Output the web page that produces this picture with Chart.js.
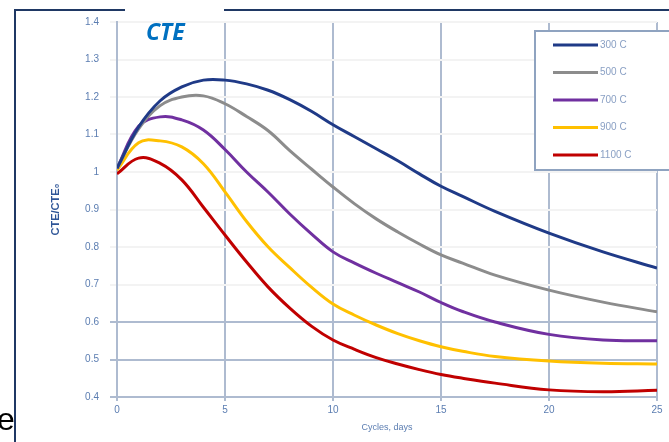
<!DOCTYPE html>
<html>
<head>
<meta charset="utf-8">
<script src="https://cdn.jsdelivr.net/npm/chart.js@4"></script>
<style>
  body { margin: 0; background: #fff; }
  #wrap { position: relative; width: 669px; height: 442px; overflow: hidden; }
  #titulo { position: absolute; left: 146px; top: 15px; font: italic bold 23px "Open Sans", "Liberation Sans", sans-serif; color: #0070c0; }
  #letra { position: absolute; left: -3px; top: 401px; font: 32px "Liberation Sans", sans-serif; color: #000; }
</style>
</head>
<body>
<div id="wrap">
  <canvas id="graficoCte" width="669" height="442"></canvas>
  <div id="titulo">CTE</div>
  <div id="letra">e</div>
</div>
<script>
// dados
const tempos = [0, 1, 2, 3, 4, 5, 6, 7, 8, 9, 10, 11, 12, 13, 14, 15, 16, 17.5, 20, 22.5, 25];
const rotulos = ['300 C', '500 C', '700 C', '900 C', '1100 C'];
const serie300 = [1.01, 1.12, 1.19, 1.227, 1.245, 1.245, 1.235, 1.218, 1.193, 1.162, 1.126, 1.094, 1.062, 1.03, 0.995, 0.962, 0.935, 0.895, 0.837, 0.787, 0.744];
const serie500 = [1.01, 1.115, 1.177, 1.2, 1.203, 1.182, 1.148, 1.11, 1.057, 1.008, 0.96, 0.915, 0.875, 0.84, 0.808, 0.779, 0.757, 0.725, 0.685, 0.653, 0.627];
const serie700 = [1.01, 1.122, 1.147, 1.139, 1.112, 1.06, 1.0, 0.946, 0.888, 0.835, 0.787, 0.757, 0.73, 0.705, 0.68, 0.652, 0.628, 0.6, 0.567, 0.552, 0.55];
const serie900 = [1.005, 1.078, 1.083, 1.067, 1.022, 0.947, 0.868, 0.80, 0.745, 0.693, 0.648, 0.618, 0.592, 0.569, 0.55, 0.534, 0.522, 0.508, 0.496, 0.49, 0.488];
const serie1100 = [0.995, 1.037, 1.023, 0.979, 0.906, 0.832, 0.76, 0.693, 0.637, 0.589, 0.552, 0.527, 0.505, 0.488, 0.473, 0.46, 0.45, 0.437, 0.419, 0.414, 0.418];
const cores = ['#1f3a87', '#8c8c8c', '#7030a0', '#ffc000', '#c00000'];

function pontos(valores) {
    return tempos.map(function(t, i) { return { x: t, y: valores[i] }; });
}

const series = [serie300, serie500, serie700, serie900, serie1100];
const datasets = series.map(function(s, i) {
    return {
        label: rotulos[i],
        data: pontos(s),
        borderColor: cores[i],
        backgroundColor: cores[i],
        borderWidth: 3,
        pointRadius: 0,
        tension: 0.4
    };
});

// moldura do slide e legenda desenhada dentro do grafico
const moldura = {
    id: 'moldura',
    afterDraw(chart) {
        const ctx = chart.ctx;
        ctx.save();
        ctx.strokeStyle = '#1f3864';
        ctx.lineWidth = 2;
        ctx.beginPath();
        ctx.moveTo(15, 442);
        ctx.lineTo(15, 10);
        ctx.lineTo(125, 10);
        ctx.moveTo(224, 10);
        ctx.lineTo(669, 10);
        ctx.stroke();

        // caixa da legenda
        ctx.fillStyle = '#fff';
        ctx.fillRect(535, 31, 140, 139);
        ctx.strokeStyle = '#8fa3c0';
        ctx.lineWidth = 2;
        ctx.strokeRect(535, 31, 140, 139);
        ctx.font = '10px "Liberation Sans", sans-serif';
        ctx.textBaseline = 'middle';
        chart.data.datasets.forEach(function(ds, i) {
            const y = 45 + i * 27.5;
            ctx.strokeStyle = ds.borderColor;
            ctx.lineWidth = 3;
            ctx.beginPath();
            ctx.moveTo(553, y);
            ctx.lineTo(598, y);
            ctx.stroke();
            ctx.fillStyle = '#8aa0c4';
            ctx.fillText(ds.label, 600, y);
        });
        ctx.restore();
    }
};

const corGrade = '#aebbd0';

new Chart(document.getElementById('graficoCte').getContext('2d'), {
    type: 'line',
    data: { datasets: datasets },
    plugins: [moldura],
    options: {
        responsive: false,
        animation: false,
        layout: { padding: { left: 49, top: 22, right: 12, bottom: 0 } },
        plugins: {
            legend: { display: false },
            tooltip: { enabled: false }
        },
        scales: {
            x: {
                type: 'linear',
                min: 0,
                max: 25,
                afterFit(axis) { axis.height = 45; },
                ticks: {
                    stepSize: 5,
                    color: '#5b7db1',
                    font: { family: 'Liberation Sans', size: 10 },
                    padding: 3
                },
                grid: { color: corGrade, lineWidth: 2, tickLength: 4 },
                border: { color: corGrade, width: 2 },
                title: {
                    display: true,
                    text: 'Cycles, days',
                    color: '#5b7db1',
                    font: { family: 'Liberation Sans', size: 9 },
                    padding: { top: 2, bottom: 9 }
                }
            },
            y: {
                min: 0.4,
                max: 1.4,
                afterFit(axis) { axis.width = 68; },
                ticks: {
                    stepSize: 0.1,
                    color: '#5b7db1',
                    font: { family: 'Liberation Sans', size: 10 },
                    padding: 11,
                    callback: function(v) { return String(Number(v.toFixed(1))); }
                },
                grid: {
                    color: function(c) { return c.tick && c.tick.value < 0.65 ? corGrade : '#f3f3f3'; },
                    lineWidth: 2,
                    tickLength: 7
                },
                border: { color: corGrade, width: 2 },
                title: {
                    display: true,
                    text: 'CTE/CTE₀',
                    color: '#2e5597',
                    font: { family: 'Liberation Sans', size: 11, weight: 'bold' },
                    padding: 0
                }
            }
        }
    }
});
</script>
</body>
</html>
